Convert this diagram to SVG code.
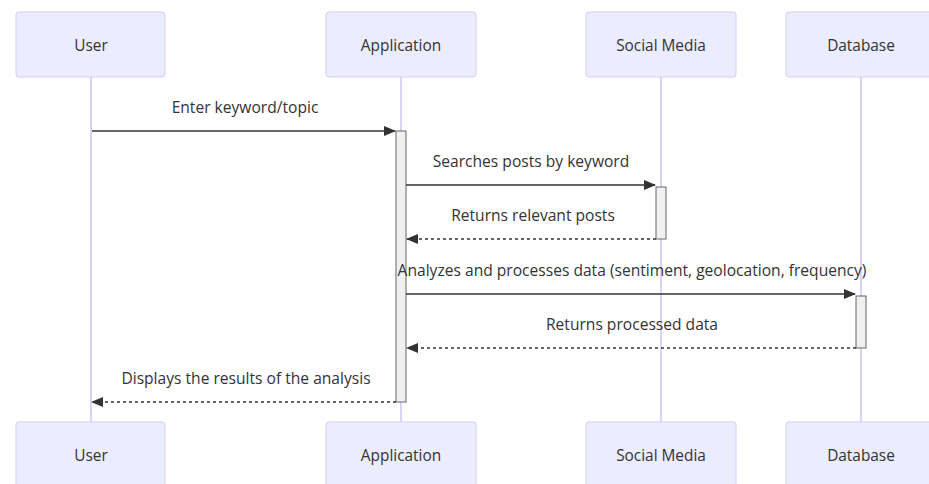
<svg xmlns="http://www.w3.org/2000/svg" width="929" height="484" viewBox="0 0 929 484">
<defs>
<style>
.actor{fill:#ECECFF;stroke:#D5CCF5;stroke-width:1}
.atext{font-family:"Open Sans","Liberation Sans",sans-serif;font-size:15.4px;fill:#333;text-anchor:middle;dominant-baseline:central}
.life{stroke:#D0C4F2;stroke-width:1.5}
.act{fill:#F0F0F0;stroke:#666;stroke-width:1}
.msg{stroke:#333;stroke-width:1.5;fill:none}
.dash{stroke-dasharray:3,3}
.mtext{font-family:"Open Sans","Liberation Sans",sans-serif;font-size:15.6px;fill:#333;text-anchor:middle}
</style>
<marker id="ah" viewBox="0 0 12 10" refX="11" refY="5" markerWidth="12" markerHeight="10" markerUnits="userSpaceOnUse" orient="auto">
<path d="M0,0 L12,5 L0,10 z" fill="#333"/>
</marker>
</defs>
<g id="lifelines">
<line class="life" x1="91" y1="77" x2="91" y2="422"/>
<line class="life" x1="401" y1="77" x2="401" y2="422"/>
<line class="life" x1="661" y1="77" x2="661" y2="422"/>
<line class="life" x1="861" y1="77" x2="861" y2="422"/>
</g>
<g id="user-top"><rect class="actor" x="16" y="12" width="149" height="65" rx="3"/><text class="atext" x="91" y="45">User</text></g>
<g id="app-top"><rect class="actor" x="326" y="12" width="150" height="65" rx="3"/><text class="atext" x="401" y="45">Application</text></g>
<g id="sm-top"><rect class="actor" x="586" y="12" width="150" height="65" rx="3"/><text class="atext" x="661" y="45">Social Media</text></g>
<g id="db-top"><rect class="actor" x="786" y="12" width="150" height="65" rx="3"/><text class="atext" x="861" y="45">Database</text></g>
<g id="user-bottom"><rect class="actor" x="16" y="422" width="149" height="65" rx="3"/><text class="atext" x="91" y="455">User</text></g>
<g id="app-bottom"><rect class="actor" x="326" y="422" width="150" height="65" rx="3"/><text class="atext" x="401" y="455">Application</text></g>
<g id="sm-bottom"><rect class="actor" x="586" y="422" width="150" height="65" rx="3"/><text class="atext" x="661" y="455">Social Media</text></g>
<g id="db-bottom"><rect class="actor" x="786" y="422" width="150" height="65" rx="3"/><text class="atext" x="861" y="455">Database</text></g>
<g id="activations">
<rect class="act" x="396" y="131" width="10" height="271"/>
<rect class="act" x="656" y="187" width="10" height="52"/>
<rect class="act" x="856" y="296" width="10" height="52"/>
</g>
<g id="connectors">
<line class="msg" x1="92" y1="131" x2="395" y2="131" marker-end="url(#ah)"/>
<text class="mtext" x="245" y="113">Enter keyword/topic</text>
<line class="msg" x1="406" y1="185" x2="655" y2="185" marker-end="url(#ah)"/>
<text class="mtext" x="531" y="167">Searches posts by keyword</text>
<line class="msg dash" x1="656" y1="239" x2="407" y2="239" marker-end="url(#ah)"/>
<text class="mtext" x="533" y="221">Returns relevant posts</text>
<line class="msg" x1="406" y1="294" x2="855" y2="294" marker-end="url(#ah)"/>
<text class="mtext" x="632" y="276">Analyzes and processes data (sentiment, geolocation, frequency)</text>
<line class="msg dash" x1="856" y1="348" x2="407" y2="348" marker-end="url(#ah)"/>
<text class="mtext" x="632" y="330">Returns processed data</text>
<line class="msg dash" x1="396" y1="402" x2="92" y2="402" marker-end="url(#ah)"/>
<text class="mtext" x="246" y="384">Displays the results of the analysis</text>
</g>
</svg>
